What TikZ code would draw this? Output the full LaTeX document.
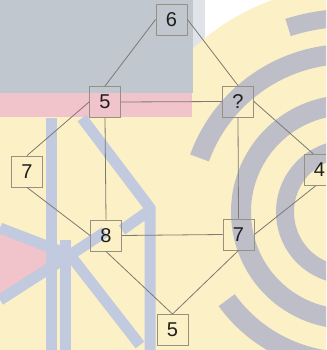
\documentclass[tikz,border=0pt]{standalone}
\usepackage{fontspec}
\setmainfont{Liberation Sans}
\definecolor{bgyellow}{RGB}{252,240,199}
\definecolor{bgblue}{RGB}{193,199,207}
\definecolor{bgpink}{RGB}{241,195,203}
\definecolor{arcgray}{RGB}{190,190,200}
\definecolor{leftblue}{RGB}{193,202,222}
\definecolor{palestrip}{RGB}{224,228,233}
\definecolor{boxc}{RGB}{150,145,128}
\definecolor{linec}{RGB}{125,122,112}
\definecolor{txt}{RGB}{30,30,30}
\begin{document}
\begin{tikzpicture}[x=1pt,y=-1pt,
  num/.style={draw=boxc, line width=0.9pt, minimum size=31pt, inner sep=0pt,
    font=\fontsize{20}{20}\selectfont, text=txt},
  edge/.style={draw=linec, line width=0.8pt},
  band/.style={draw=leftblue, line width=11pt},
  ring/.style={draw=arcgray}]
\useasboundingbox (0,0) rectangle (326,350);
\clip (0,0) rectangle (326,350);
% background
\fill[bgyellow] (0,0) rectangle (326,350);
\fill[white] (193,0) rectangle (326,110);
\fill[palestrip] (193,0) rectangle (205,100);
\fill[bgyellow] (348,212) circle[radius=225pt];
\fill[bgblue] (0,0) rectangle (193,93);
\fill[bgpink] (0,93) rectangle (192,117);
\fill[bgpink] (0,233) -- (65,257) -- (0,300) -- cycle;
% left pattern
\draw[band] (51,118) -- (51,350);
\draw[band] (65,240) -- (65,350);
\draw[band] (82,118) -- (150,208) -- (150,350);
\draw[band] (122,230) -- (150,210);
\draw[band] (0,228) -- (70,255) -- (140,345);
\draw[band] (0,300) -- (70,255) -- (105,232);
% right rings
\draw[ring, line width=18pt] ([shift={(60:194pt)}]348,212) arc[start angle=60, end angle=108, radius=194pt];
\draw[ring, line width=20pt] ([shift={(60:158pt)}]348,212) arc[start angle=60, end angle=160, radius=158pt];
\draw[ring, line width=20pt] ([shift={(216:150pt)}]348,212) arc[start angle=216, end angle=300, radius=150pt];
\draw[ring, line width=20pt] ([shift={(60:107pt)}]348,212) arc[start angle=60, end angle=290, radius=107pt];
\draw[ring, line width=18pt] ([shift={(60:63pt)}]348,212) arc[start angle=60, end angle=300, radius=63pt];
% nodes
\node[num] (n6) at (171.5,19.5) {6};
\node[num] (n5t) at (105,102) {5};
\node[num] (nq) at (238,101.5) {?};
\node[num] (n7l) at (27,171.5) {7};
\node[num] (n4) at (319.5,170) {4};
\node[num] (n8) at (106,235.5) {8};
\node[num] (n7r) at (238.5,234.5) {7};
\node[num] (n5b) at (172.5,330) {5};
% edges
\draw[edge] (n6.west) -- (n5t.north);
\draw[edge] (n6.east) -- (nq.north);
\draw[edge] (n5t.east) -- (nq.west);
\draw[edge] (n5t.west) -- (n7l.north);
\draw[edge] (n5t.south) -- (n8.north);
\draw[edge] (n7l.south) -- (n8.west);
\draw[edge] (n8.east) -- (n7r.west);
\draw[edge] (nq.south) -- (n7r.north);
\draw[edge] (nq.east) -- ([xshift=-6pt]n4.north);
\draw[edge] ([xshift=-4pt]n4.south) -- (n7r.east);
\draw[edge] (n8.south) -- (n5b.north);
\draw[edge] (n7r.south) -- (n5b.north);
\end{tikzpicture}
\end{document}
